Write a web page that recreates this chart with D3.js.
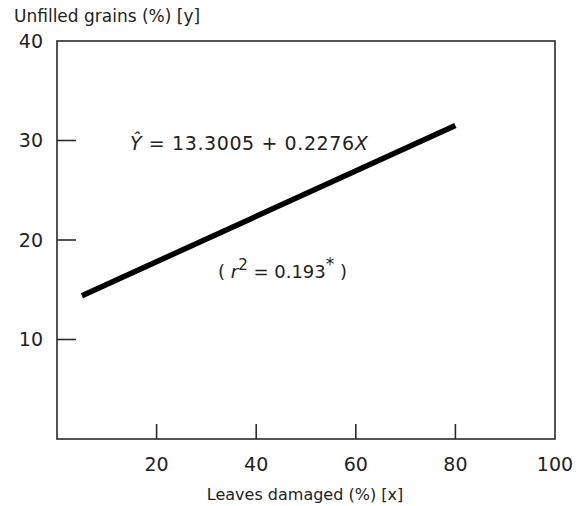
<!DOCTYPE html>
<html>
<head>
<meta charset="utf-8">
<script src="https://cdnjs.cloudflare.com/ajax/libs/d3/7.8.5/d3.min.js"></script>
<style>
  body { margin: 0; background: #fff; }
  text { font-family: "DejaVu Sans", sans-serif; fill: #222; }
</style>
</head>
<body>
<div id="chart"></div>
<script>
// axis settings
var xDomain = [0, 100];
var yDomain = [0, 40];
var xTickValues = [20, 40, 60, 80];
var xTickLabels = [20, 40, 60, 80, 100];
var yTickValues = [10, 20, 30];
var yTickLabels = [10, 20, 30, 40];

// fitted line endpoints (x, y)
var lineX = [5, 80];
var lineY = [14.4, 31.5];

var width = 581, height = 506;

var svg = d3.select("#chart").append("svg")
    .attr("width", width)
    .attr("height", height);

var x = d3.scaleLinear().domain(xDomain).range([57, 555]);
var y = d3.scaleLinear().domain(yDomain).range([439, 41]);

var frame = svg.append("g")
    .attr("stroke", "#2a2a2a")
    .attr("stroke-width", 1.6)
    .attr("fill", "none");

// box round the plot
frame.append("rect")
    .attr("x", x(0))
    .attr("y", y(40))
    .attr("width", x(100) - x(0))
    .attr("height", y(0) - y(40));

// ticks point inwards
frame.selectAll(".ytick")
    .data(yTickValues)
    .enter().append("line")
    .attr("x1", x(0))
    .attr("x2", x(0) + 19)
    .attr("y1", function (d) { return y(d); })
    .attr("y2", function (d) { return y(d); });

frame.selectAll(".xtick")
    .data(xTickValues)
    .enter().append("line")
    .attr("x1", function (d) { return x(d); })
    .attr("x2", function (d) { return x(d); })
    .attr("y1", y(0))
    .attr("y2", y(0) - 15);

svg.selectAll(".ylab")
    .data(yTickLabels)
    .enter().append("text")
    .attr("x", 43)
    .attr("y", function (d) { return y(d); })
    .attr("dy", "0.36em")
    .attr("text-anchor", "end")
    .attr("font-size", 19)
    .text(function (d) { return d; });

svg.selectAll(".xlab")
    .data(xTickLabels)
    .enter().append("text")
    .attr("x", function (d) { return x(d); })
    .attr("y", 471)
    .attr("text-anchor", "middle")
    .attr("font-size", 19)
    .text(function (d) { return d; });

svg.append("text")
    .attr("x", 305)
    .attr("y", 500)
    .attr("text-anchor", "middle")
    .attr("font-size", 16)
    .text("Leaves damaged  (%) [x]");

svg.append("text")
    .attr("x", 14)
    .attr("y", 22)
    .attr("font-size", 17)
    .text("Unfilled  grains  (%) [y]");

// regression line
var pts = lineX.map(function (d, i) { return [d, lineY[i]]; });
svg.append("path")
    .datum(pts)
    .attr("fill", "none")
    .attr("stroke", "#000")
    .attr("stroke-width", 5.5)
    .attr("d", d3.line()
        .x(function (d) { return x(d[0]); })
        .y(function (d) { return y(d[1]); }));

// equation
var eq = svg.append("text")
    .attr("x", 130)
    .attr("y", 150)
    .attr("font-size", 19)
    .attr("letter-spacing", 0.6);
eq.append("tspan").attr("font-style", "italic").text("Ŷ");
eq.append("tspan").text(" = 13.3005  + 0.2276");
eq.append("tspan").attr("font-style", "italic").text("X");

var r2 = svg.append("text")
    .attr("x", 218)
    .attr("y", 278)
    .attr("font-size", 18);
r2.append("tspan").text("( ");
r2.append("tspan").attr("font-style", "italic").text("r");
r2.append("tspan").attr("dy", -8).attr("font-size", 15).text("2");
r2.append("tspan").attr("dy", 8).text(" = 0.193");
r2.append("tspan").attr("dy", -8).attr("font-size", 17).text("*");
r2.append("tspan").attr("dy", 8).text(" )");
</script>
</body>
</html>
